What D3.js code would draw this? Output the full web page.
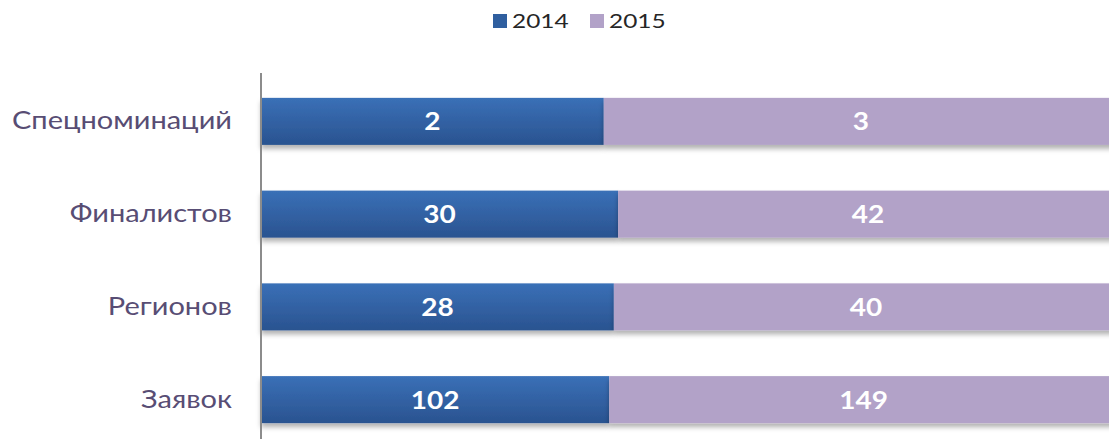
<!DOCTYPE html>
<html>
<head>
<meta charset="utf-8">
<script src="https://cdn.jsdelivr.net/npm/d3@7"></script>
<style>
  body { margin: 0; background: #fff; }
  svg { display: block; }
</style>
</head>
<body>
<svg id="chart"></svg>
<script>
// categories top to bottom, and the two series
const categories = ["Спецноминаций", "Финалистов", "Регионов", "Заявок"];
const years      = ["2014", "2015"];
const values2014 = [2, 30, 28, 102];
const values2015 = [3, 42, 40, 149];

const W = 1109, H = 439;
const FONT = "Lato, 'Open Sans', sans-serif";
const SX = 1.12;     // value labels: original text is a little wide
const SX_CAT = 1.16; // category labels
const colors = { "2014": "url(#grad2014)", "2015": "#b2a2c8" };
const swatch = { "2014": "#2f5f9f", "2015": "#b2a2c8" };

const svg = d3.select("#chart").attr("width", W).attr("height", H);

const defs = svg.append("defs");
const grad = defs.append("linearGradient")
  .attr("id", "grad2014").attr("x1", 0).attr("y1", 0).attr("x2", 0).attr("y2", 1);
grad.append("stop").attr("offset", "0%").attr("stop-color", "#3a70b7");
grad.append("stop").attr("offset", "100%").attr("stop-color", "#2a5390");

const shadow = defs.append("filter").attr("id", "shadow")
  .attr("x", "-5%").attr("y", "-20%").attr("width", "110%").attr("height", "160%");
shadow.append("feDropShadow")
  .attr("dx", 0).attr("dy", 4).attr("stdDeviation", 2.5)
  .attr("flood-color", "#000").attr("flood-opacity", 0.3);

// 100% stacked: each row normalised to its total
const rows = categories.map((c, i) => {
  const total = values2014[i] + values2015[i];
  return { cat: c, "2014": values2014[i] / total, "2015": values2015[i] / total,
           raw: { "2014": values2014[i], "2015": values2015[i] } };
});
const stacked = d3.stack().keys(years)(rows);

const x = d3.scaleLinear().domain([0, 1]).range([261, 1118]);
const y = d3.scaleBand().domain(categories).range([75, 446])
  .paddingInner(0.493).paddingOuter(0.2465);

// bars
const barG = svg.append("g");
stacked.forEach(layer => {
  const key = layer.key;
  barG.append("g")
    .attr("filter", "url(#shadow)")
    .selectAll("rect").data(layer).join("rect")
    .attr("x", d => x(d[0]))
    .attr("y", d => y(d.data.cat))
    .attr("width", d => x(d[1]) - x(d[0]))
    .attr("height", y.bandwidth())
    .attr("fill", colors[key]);
});

// value labels
stacked.forEach(layer => {
  const key = layer.key;
  svg.append("g").selectAll("g").data(layer).join("g")
    .attr("transform", d => `translate(${(x(d[0]) + x(d[1])) / 2},${y(d.data.cat) + y.bandwidth() / 2}) scale(${SX},1)`)
    .append("text")
    .attr("dy", "0.36em")
    .attr("text-anchor", "middle")
    .attr("fill", "#fff")
    .attr("font-family", FONT)
    .attr("font-weight", "bold")
    .attr("font-size", 25)
    .text(d => d.data.raw[key]);
});

// category axis
const yAxis = svg.append("g")
  .attr("transform", `translate(${x(0)},0)`)
  .call(d3.axisLeft(y).tickSize(0).tickPadding(29));
yAxis.select(".domain").attr("d", `M0,73V${H}`).attr("stroke", "#8c8c8c").attr("stroke-width", 2);
yAxis.selectAll(".tick text")
  .attr("x", -29 / SX_CAT)
  .attr("transform", `scale(${SX_CAT},1)`)
  .attr("font-family", FONT).attr("font-size", 25).attr("fill", "#584d74");

// legend
const legend = svg.append("g").attr("transform", "translate(493,14)");
const legendX = [0, 97];
years.forEach((k, i) => {
  const g = legend.append("g").attr("transform", `translate(${legendX[i]},0)`);
  g.append("rect").attr("width", 14).attr("height", 14).attr("fill", swatch[k]);
  g.append("text").attr("transform", "translate(19,7) scale(1.22,1)").attr("dy", "0.36em")
    .attr("font-family", FONT).attr("font-size", 20).attr("fill", "#262626")
    .text(k);
});
</script>
</body>
</html>
